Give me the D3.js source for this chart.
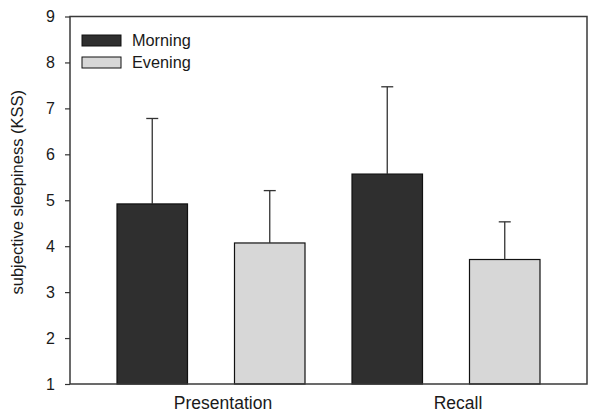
<!DOCTYPE html>
<html>
<head>
<meta charset="utf-8">
<script src="https://cdn.jsdelivr.net/npm/d3@7"></script>
<style>
  html, body { margin: 0; padding: 0; background: #fff; }
  text { font-family: "Liberation Sans", Arial, sans-serif; fill: #1a1a1a; }
</style>
</head>
<body>
<svg id="chart" width="602" height="418"></svg>
<script>
const categories = ["Presentation", "Recall"];
const series = ["Morning", "Evening"];
const morningValues = [4.92, 5.57];
const morningErrors = [1.86, 1.90];
const eveningValues = [4.07, 3.71];
const eveningErrors = [1.14, 0.82];
const yTicks = [1, 2, 3, 4, 5, 6, 7, 8, 9];
const colors = { Morning: "#2f2f2f", Evening: "#d7d7d7" };

const svg = d3.select("#chart");
const mLeft = 70, mRight = 587, mTop = 16.5, mBottom = 384;

const rows = [];
categories.forEach((c, i) => {
  rows.push({ cat: c, s: "Morning", v: morningValues[i], e: morningErrors[i] });
  rows.push({ cat: c, s: "Evening", v: eveningValues[i], e: eveningErrors[i] });
});

const x = d3.scaleBand()
  .domain(rows.map(d => d.cat + "|" + d.s))
  .range([mLeft, mRight])
  .paddingInner(0.4)
  .paddingOuter(0.4);

const y = d3.scaleLinear().domain([1, 9]).range([mBottom, mTop]);

// bars
svg.append("g").selectAll("rect")
  .data(rows).join("rect")
  .attr("x", d => x(d.cat + "|" + d.s))
  .attr("y", d => y(d.v))
  .attr("width", x.bandwidth())
  .attr("height", d => y(1) - y(d.v))
  .attr("fill", d => colors[d.s])
  .attr("stroke", "#111")
  .attr("stroke-width", 1.2);

// error bars (upper only)
const eb = svg.append("g").attr("stroke", "#333").attr("stroke-width", 1.3);
rows.forEach(d => {
  const cx = x(d.cat + "|" + d.s) + x.bandwidth() / 2;
  eb.append("line").attr("x1", cx).attr("x2", cx).attr("y1", y(d.v)).attr("y2", y(d.v + d.e));
  eb.append("line").attr("x1", cx - 6).attr("x2", cx + 6).attr("y1", y(d.v + d.e)).attr("y2", y(d.v + d.e));
});

// frame
svg.append("rect")
  .attr("x", mLeft).attr("y", mTop)
  .attr("width", mRight - mLeft).attr("height", mBottom - mTop)
  .attr("fill", "none").attr("stroke", "#3a3a3a").attr("stroke-width", 1.5);

// y axis
const yAxis = d3.axisLeft(y).tickValues(yTicks).tickSize(5).tickPadding(10).tickFormat(d3.format("d"));
const gy = svg.append("g").attr("transform", `translate(${mLeft},0)`).call(yAxis);
gy.select(".domain").remove();
gy.selectAll(".tick line").attr("stroke", "#333").attr("stroke-width", 1.2);
gy.selectAll(".tick text").attr("font-size", 16).attr("fill", "#1a1a1a")
  .attr("font-family", "Liberation Sans, Arial, sans-serif");

// x category labels
categories.forEach(c => {
  const x1 = x(c + "|Morning"), x2 = x(c + "|Evening") + x.bandwidth();
  svg.append("text")
    .attr("x", (x1 + x2) / 2 + 12)
    .attr("y", 409)
    .attr("text-anchor", "middle")
    .attr("font-size", 17.5)
    .text(c);
});

// y title
svg.append("text")
  .attr("transform", `translate(23,${(mTop + mBottom) / 2 - 8}) rotate(-90)`)
  .attr("text-anchor", "middle")
  .attr("font-size", 16.5)
  .text("subjective sleepiness (KSS)");

// legend
const lg = svg.append("g");
series.forEach((s, i) => {
  const yy = 35 + i * 22;
  lg.append("rect").attr("x", 82).attr("y", yy).attr("width", 39).attr("height", 11)
    .attr("fill", colors[s]).attr("stroke", "#111").attr("stroke-width", 1);
  lg.append("text").attr("x", 132).attr("y", yy + 11).attr("font-size", 16.3).text(s);
});
</script>
</body>
</html>
